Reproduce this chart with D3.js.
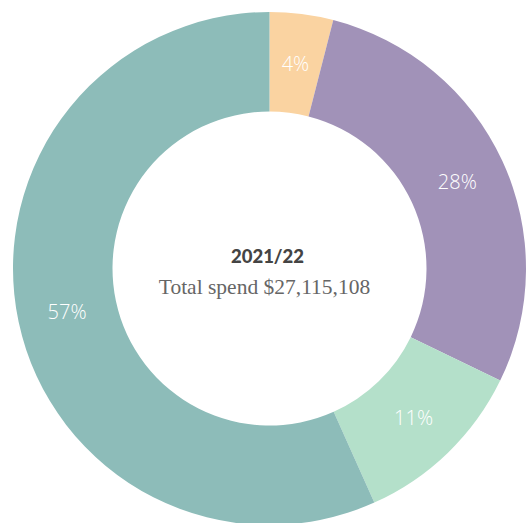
<!DOCTYPE html>
<html>
<head>
<meta charset="utf-8">
<script src="https://cdn.jsdelivr.net/npm/d3@7"></script>
<style>
  html, body { margin: 0; padding: 0; background: #ffffff; }
  svg { display: block; }
</style>
</head>
<body>
<svg id="chart" width="528" height="523"></svg>
<script>
// Data (share of total spend, %)
const categories = ["A", "B", "C", "D"];
const values = [4.0, 28.2, 11.1, 56.7];
const labels = ["4%", "28%", "11%", "57%"];
const colors = ["#FAD3A1", "#A192B8", "#B4E0CA", "#8DBCB9"];
const centerTitle = "2021/22";
const centerSubtitle = "Total spend $27,115,108";

const svg = d3.select("#chart");
const cx = 269.5, cy = 268.5;
const outerR = 256.5, innerR = 157;

const data = categories.map((c, i) => ({ cat: c, value: values[i], label: labels[i] }));

const color = d3.scaleOrdinal().domain(categories).range(colors);

const pie = d3.pie().value(d => d.value).sort(null);
const arc = d3.arc().innerRadius(innerR).outerRadius(outerR);
const labelArc = d3.arc().innerRadius(innerR + 50).outerRadius(innerR + 50);

const g = svg.append("g").attr("transform", `translate(${cx},${cy})`);
const arcs = pie(data);

g.selectAll("path.slice")
  .data(arcs)
  .enter().append("path")
  .attr("class", "slice")
  .attr("d", arc)
  .attr("fill", d => color(d.data.cat));

g.selectAll("text.pct")
  .data(arcs)
  .enter().append("text")
  .attr("class", "pct")
  .attr("transform", d => `translate(${labelArc.centroid(d)})`)
  .attr("text-anchor", "middle")
  .attr("dominant-baseline", "central")
  .attr("fill", "#ffffff")
  .style("font-family", "'Open Sans', Lato, sans-serif")
  .style("font-weight", 300)
  .style("font-size", "20px")
  .text(d => d.data.label);

svg.append("text")
  .attr("x", cx - 2)
  .attr("y", 262.5)
  .attr("text-anchor", "middle")
  .attr("fill", "#444444")
  .style("font-family", "Lato, 'Open Sans', sans-serif")
  .style("font-weight", 900)
  .style("font-size", "18.5px")
  .text(centerTitle);

svg.append("text")
  .attr("x", cx - 5)
  .attr("y", 294)
  .attr("text-anchor", "middle")
  .attr("fill", "#666666")
  .style("font-family", "'Liberation Serif', serif")
  .style("font-weight", 400)
  .style("font-size", "21.5px")
  .text(centerSubtitle);
</script>
</body>
</html>
